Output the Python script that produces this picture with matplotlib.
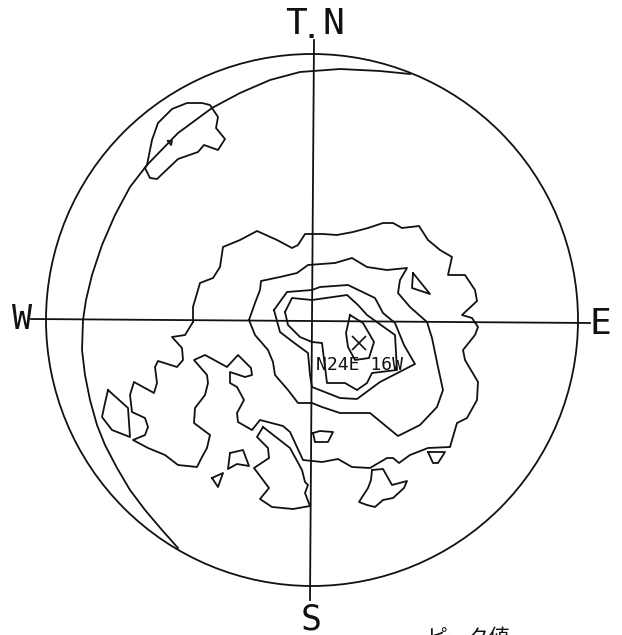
import matplotlib
matplotlib.use("Agg")
import matplotlib.pyplot as plt
from matplotlib.patches import Circle

net_center = (312, 320)
net_radius = 266
ns_axis = [(314, 40), (310, 600)]
ew_axis = [(31, 319), (590, 323)]
peak = (359, 343)

pole_arc = [(410,74),(380,71),(340,69),(300,72),(270,80),(240,93),(212,108),(178,133),(147,165),(130,187),
            (115,215),(102,245),(92,275),(86,300),(83,320),(82,350),(85,375),(90,400),(97,425),(105,445),
            (117,468),(130,490),(145,510),(162,530),(178,548)]

outer = [(193,322),(193,307),(200,283),(213,278),(220,267),(223,247),(240,240),(257,231),(277,240),(292,248),
         (298,245),(305,234),(323,234),(337,235),(353,232),(368,228),(383,223),(393,223),(402,228),(419,226),
         (428,240),(440,250),(452,257),(448,275),(465,275),(475,290),(477,301),(462,315),(472,318),(478,327),
         (475,335),(463,350),(465,360),(478,382),(477,400),(467,418),(457,423),(450,447),(428,448),(410,455),
         (399,463),(393,458),(387,458),(370,468),(352,467),(338,459),(322,462),(303,460),(290,432),(283,426),
         (260,420),(252,430),(238,422),(237,413),(244,400),(237,387),(230,383),(230,372),(245,377),(252,375),
         (251,368),(238,355),(227,367),(205,355),(194,360),(207,375),(208,383),(205,395),(195,408),(194,423),
         (210,435),(207,448),(202,457),(197,467),(178,465),(165,455),(148,448),(133,440),(145,435),(148,427),
         (145,418),(132,412),(130,395),(134,382),(154,393),(157,383),(155,367),(158,361),(177,367),(183,360),
         (182,348),(172,337),(185,335),(193,322)]
level2 = [(249,320),(255,303),(260,290),(261,281),(280,277),(297,273),(308,265),(335,263),(352,258),(367,267),
          (387,270),(407,268),(400,280),(398,293),(410,307),(427,322),(432,338),(438,367),(443,390),(437,407),
          (420,425),(398,436),(387,427),(370,413),(340,413),(322,407),(312,403),(298,403),(288,390),(275,375),
          (273,362),(268,350),(255,335),(249,320)]
level3 = [(274,310),(287,292),(312,290),(320,287),(348,285),(375,298),(383,313),(395,323),(404,345),(415,364),
          (380,382),(357,399),(340,398),(312,387),(310,375),(308,353),(293,342),(280,332),(274,310)]
level4 = [(285,312),(292,298),(312,300),(347,295),(358,305),(367,315),(395,335),(397,370),(372,373),(367,383),
          (357,390),(345,383),(327,383),(322,343),(312,342),(300,337),(288,325),(285,312)]
level5 = [(350,315),(363,323),(374,342),(369,358),(355,360),(348,347),(346,333),(350,315)]

top_blob = [(145,168),(150,178),(157,179),(178,159),(198,152),(204,145),(218,150),(225,139),(216,128),(218,117),
            (210,105),(202,103),(187,103),(172,109),(158,123),(152,140),(147,165),(145,168)]
tiny_mark = [(168,141),(172,141),(171,145),(168,141)]
left_blob = [(108,390),(128,408),(130,437),(112,430),(102,417),(105,403),(108,390)]
tri_right = [(413,273),(430,294),(412,288),(413,273)]
blob_mid = [(313,433),(320,431),(333,432),(328,442),(315,442),(313,433)]
tri_low = [(428,452),(445,452),(438,463),(433,463),(428,452)]
blob_low = [(372,470),(383,469),(392,485),(407,481),(404,488),(393,498),(383,500),(375,507),(367,505),(359,502),
            (368,488),(371,480),(372,470)]
lobe = [(263,427),(290,448),(302,470),(305,482),(308,485),(305,493),(310,506),(293,509),(272,507),(260,499),
        (269,488),(254,468),(269,458),(268,448),(257,437),(263,427)]
blob_a = [(230,453),(243,450),(249,466),(237,464),(228,469),(230,453)]
blob_b = [(212,478),(223,473),(218,487),(212,478)]

contours = [pole_arc, outer, level2, level3, level4, level5, top_blob, tiny_mark, left_blob, tri_right,
            blob_mid, tri_low, blob_low, lobe, blob_a, blob_b, ns_axis, ew_axis]

ink = "#111111"
mono = ["DejaVu Sans Mono"]

fig = plt.figure(figsize=(6.22, 6.35), dpi=100)
ax = fig.add_axes([0, 0, 1, 1])
ax.set_xlim(0, 622)
ax.set_ylim(635, 0)
ax.axis("off")

ax.add_patch(Circle(net_center, net_radius, fill=False, ec=ink, lw=1.3))
for c in contours:
    xs, ys = zip(*c)
    ax.plot(xs, ys, color=ink, lw=1.3, solid_joinstyle="round")
ax.plot(*peak, marker="x", ms=9.5, mew=1.2, color=ink)

def label(x, y, s, size, weight="normal"):
    ax.text(x, y, s, fontsize=size, family=mono, color=ink, ha="center", va="center", weight=weight)

label(295.5, 23.5, "T", 26)
label(311, 31, ".", 18, "bold")
label(333.5, 23.5, "N", 26)
label(22, 319.5, "W", 24)
label(600, 323.5, "E", 26)
label(311, 619, "S", 25)
label(360, 365, "N24E 16W", 13)
ax.text(426, 627, "ピーク値", fontsize=15, family=["Noto Sans CJK JP", "DejaVu Sans"],
        color=ink, ha="left", va="top", clip_on=True)

fig.savefig("out.png", dpi=100)
